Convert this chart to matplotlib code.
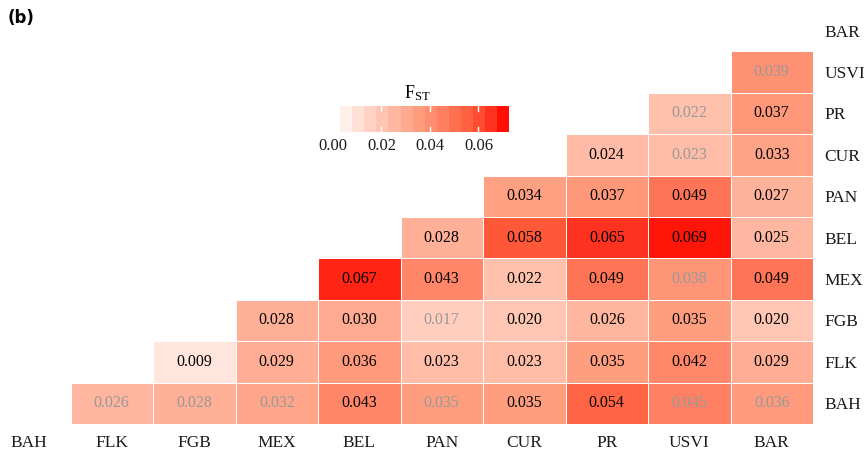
"""Pairwise FST heatmap, upper triangle, panel (b)."""

import matplotlib.pyplot as plt
import numpy as np
from matplotlib.colors import LinearSegmentedColormap, Normalize

plt.switch_backend("Agg")
plt.rcParams["font.family"] = ["Liberation Serif", "DejaVu Serif"]

POPS = ["BAH", "FLK", "FGB", "MEX", "BEL", "PAN", "CUR", "PR", "USVI", "BAR"]

# each row: values against the populations that come after it in POPS
FST_ROWS = {
    "BAH": [0.026, 0.028, 0.032, 0.043, 0.035, 0.035, 0.054, 0.045, 0.036],
    "FLK": [0.009, 0.029, 0.036, 0.023, 0.023, 0.035, 0.042, 0.029],
    "FGB": [0.028, 0.030, 0.017, 0.020, 0.026, 0.035, 0.020],
    "MEX": [0.067, 0.043, 0.022, 0.049, 0.038, 0.049],
    "BEL": [0.028, 0.058, 0.065, 0.069, 0.025],
    "PAN": [0.034, 0.037, 0.049, 0.027],
    "CUR": [0.024, 0.023, 0.033],
    "PR": [0.022, 0.037],
    "USVI": [0.039],
}
# False = not significant (grey label)
SIG_ROWS = {
    "BAH": [False, False, False, True, False, True, True, False, False],
    "FLK": [True] * 8,
    "FGB": [True, True, False, True, True, True, True],
    "MEX": [True, True, True, True, False, True],
    "BEL": [True] * 5,
    "PAN": [True] * 4,
    "CUR": [True, False, True],
    "PR": [False, True],
    "USVI": [False],
}

CBAR_TICKS = [0.00, 0.02, 0.04, 0.06]
CBAR_LO, CBAR_HI, CBAR_STEPS = 0.003, 0.0726, 14

VMAX = 0.0726
cmap = LinearSegmentedColormap.from_list(
    "fst",
    [
        (0.0, "#FFFFFF"),
        (0.009 / VMAX, "#FFE4DA"),
        (0.023 / VMAX, "#FFBDA8"),
        (0.036 / VMAX, "#FF9A7C"),
        (0.049 / VMAX, "#FF7456"),
        (0.058 / VMAX, "#FF5838"),
        (0.065 / VMAX, "#FF3321"),
        (0.069 / VMAX, "#FF170A"),
        (1.0, "#FF0000"),
    ],
)
norm = Normalize(0.0, VMAX)

n = len(POPS)
grid = np.full((n, n), np.nan)
sig = np.zeros((n, n), dtype=bool)
for i, p in enumerate(POPS):
    for k, v in enumerate(FST_ROWS.get(p, [])):
        grid[i, i + 1 + k] = v
        sig[i, i + 1 + k] = SIG_ROWS[p][k]

W, H = 866, 454
fig = plt.figure(figsize=(W / 100, H / 100), dpi=100)
ax = fig.add_axes([-12 / W, 30 / H, 825 / W, 414 / H])

ax.pcolormesh(
    np.arange(n + 1) - 0.5,
    np.arange(n + 1) - 0.5,
    np.ma.masked_invalid(grid),
    cmap=cmap,
    norm=norm,
    edgecolor="white",
    linewidth=0.7,
)
for i in range(n):
    for j in range(n):
        if not np.isnan(grid[i, j]):
            ax.text(j, i, f"{grid[i, j]:.3f}", ha="center", va="center",
                    fontsize=11.5, color="black" if sig[i, j] else "#999999")

ax.set_xlim(-0.5, n - 0.5)
ax.set_ylim(-0.5, n - 0.5)
ax.set_xticks(range(n), POPS)
ax.set_yticks(range(n), POPS)
ax.yaxis.tick_right()
ax.tick_params(length=0, labelsize=12.5, colors="#1a1a1a")
ax.tick_params(axis="x", pad=8)
ax.tick_params(axis="y", pad=8)
for s in ax.spines.values():
    s.set_visible(False)

# stepped colour bar
cax = fig.add_axes([333 / W, (H - 132) / H, 176 / W, 26 / H])
edges = np.linspace(CBAR_LO, CBAR_HI, CBAR_STEPS + 1)
mids = (edges[:-1] + edges[1:]) / 2
cax.pcolormesh(edges, [0, 1], mids[None, :], cmap=cmap, norm=norm)
cax.set_xlim(0.0, CBAR_HI)
cax.set_ylim(0, 1)
for t in CBAR_TICKS[1:]:
    cax.plot([t, t], [0, 0.2], color="white", lw=1)
    cax.plot([t, t], [0.8, 1], color="white", lw=1)
cax.set_xticks(CBAR_TICKS, [f"{t:.2f}" for t in CBAR_TICKS])
cax.set_yticks([])
cax.tick_params(length=0, labelsize=12, pad=4, colors="#1a1a1a")
for s in cax.spines.values():
    s.set_visible(False)
fig.text(417 / W, 1 - 93 / H, r"$\mathregular{F_{ST}}$", ha="center", va="center",
         fontsize=13)

fig.text(8 / W, 1 - 18 / H, "(b)", fontsize=12, fontweight="bold",
         family="DejaVu Sans", ha="left", va="center")

fig.savefig("out.png", dpi=100)
